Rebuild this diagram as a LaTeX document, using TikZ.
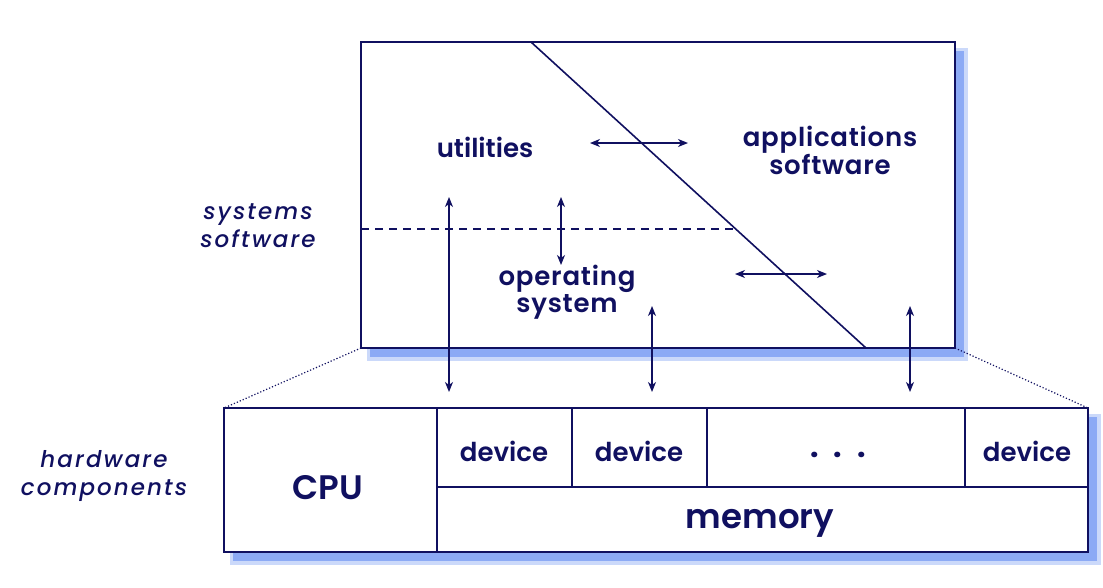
\documentclass[tikz,border=0pt]{standalone}
\usepackage{fontspec}
\setmainfont{Poppins}[UprightFont={* SemiBold},ItalicFont={* Medium Italic},BoldFont={* Bold}]
\usetikzlibrary{arrows.meta}
\definecolor{navy}{RGB}{16,16,96}
\definecolor{shadowblue}{RGB}{140,170,245}
\tikzset{
  box/.style={draw=navy,line width=1.6pt,fill=white},
  cell/.style={draw=navy,line width=1.6pt},
  lbl/.style={text=navy,font=\fontsize{26}{27}\selectfont,align=center},
  widelbl/.style={text=navy,font=\fontsize{26}{27}\selectfont\addfontfeature{LetterSpace=3},align=center},
  big/.style={text=navy,font=\fontsize{34}{36}\selectfont},
  side/.style={text=navy,font=\fontsize{23}{28}\selectfont\itshape\addfontfeature{LetterSpace=9},align=center},
  dbl/.style={draw=navy,line width=1.3pt,{Stealth[length=10pt,width=8pt,inset=3pt]}-{Stealth[length=10pt,width=8pt,inset=3pt]}},
  dots/.style={draw=navy,line width=1.2pt,dotted}
}
\begin{document}
\begin{tikzpicture}[x=1pt,y=-1pt]
\useasboundingbox (0,0) rectangle (1103,587);
% shadows
\fill[shadowblue,opacity=0.45] (367,48) rectangle (968,361);
\fill[shadowblue] (370,51) rectangle (964,357);
\fill[shadowblue,opacity=0.45] (230,414) rectangle (1101,565);
\fill[shadowblue] (233,417) rectangle (1097,561);
% top box
\draw[box] (361,42) rectangle (955,348);
\coordinate (d1) at (531,42);
\coordinate (d2) at (866,348);
\draw[cell] (d1) -- (d2);
\coordinate (h1) at (361,229);
\coordinate (h2) at (736,229);
\draw[cell,line width=1.2pt,dash pattern=on 8pt off 6pt] (h1) -- (h2);
% bottom box
\draw[box] (224,408) rectangle (1088,552);
\draw[cell] (437,408) -- (437,552);
\draw[cell] (437,487) -- (1088,487);
\draw[cell] (572,408) -- (572,487);
\draw[cell] (707,408) -- (707,487);
\draw[cell] (965,408) -- (965,487);
% dotted
\coordinate (tbl) at (361,348);
\coordinate (tbr) at (955,348);
\coordinate (bbl) at (224,408);
\coordinate (bbr) at (1088,408);
\draw[dots] (tbl) -- (bbl);
\draw[dots] (tbr) -- (bbr);
% texts
\node[lbl] (util) at (485,147) {utilities};
\node[widelbl] (apps) at (830,150) {applications\\software};
\node[widelbl] (os) at (567,292) {operating\\system};
\node[side] (sys) at (258,226) {systems\\software};
\node[side] (hw) at (104,476) {hardware\\components};
\node[lbl] (dev1) at (504,451) {device};
\node[lbl] (dev2) at (639,451) {device};
\node[lbl,font=\fontsize{30}{30}\selectfont\bfseries] (dots) at (838,455) {.\hspace{15pt}.\hspace{15pt}.};
\node[lbl] (dev3) at (1027,451) {device};
\node[big] (cpu) at (328,488) {CPU};
\node[big] (mem) at (760,523) {memory};
% arrows
\coordinate (a1) at (590,143); \coordinate (a2) at (688,143);
\draw[dbl] (a1) -- (a2);
\coordinate (b1) at (561,197); \coordinate (b2) at (561,265);
\draw[dbl] (b1) -- (b2);
\coordinate (c1) at (735,274); \coordinate (c2) at (827,274);
\draw[dbl] (c1) -- (c2);
\coordinate (e1) at (449,197); \coordinate (e2) at (449,392);
\draw[dbl] (e1) -- (e2);
\coordinate (f1) at (652,306); \coordinate (f2) at (652,392);
\draw[dbl] (f1) -- (f2);
\coordinate (g1) at (910,306); \coordinate (g2) at (910,392);
\draw[dbl] (g1) -- (g2);
\end{tikzpicture}
\end{document}
